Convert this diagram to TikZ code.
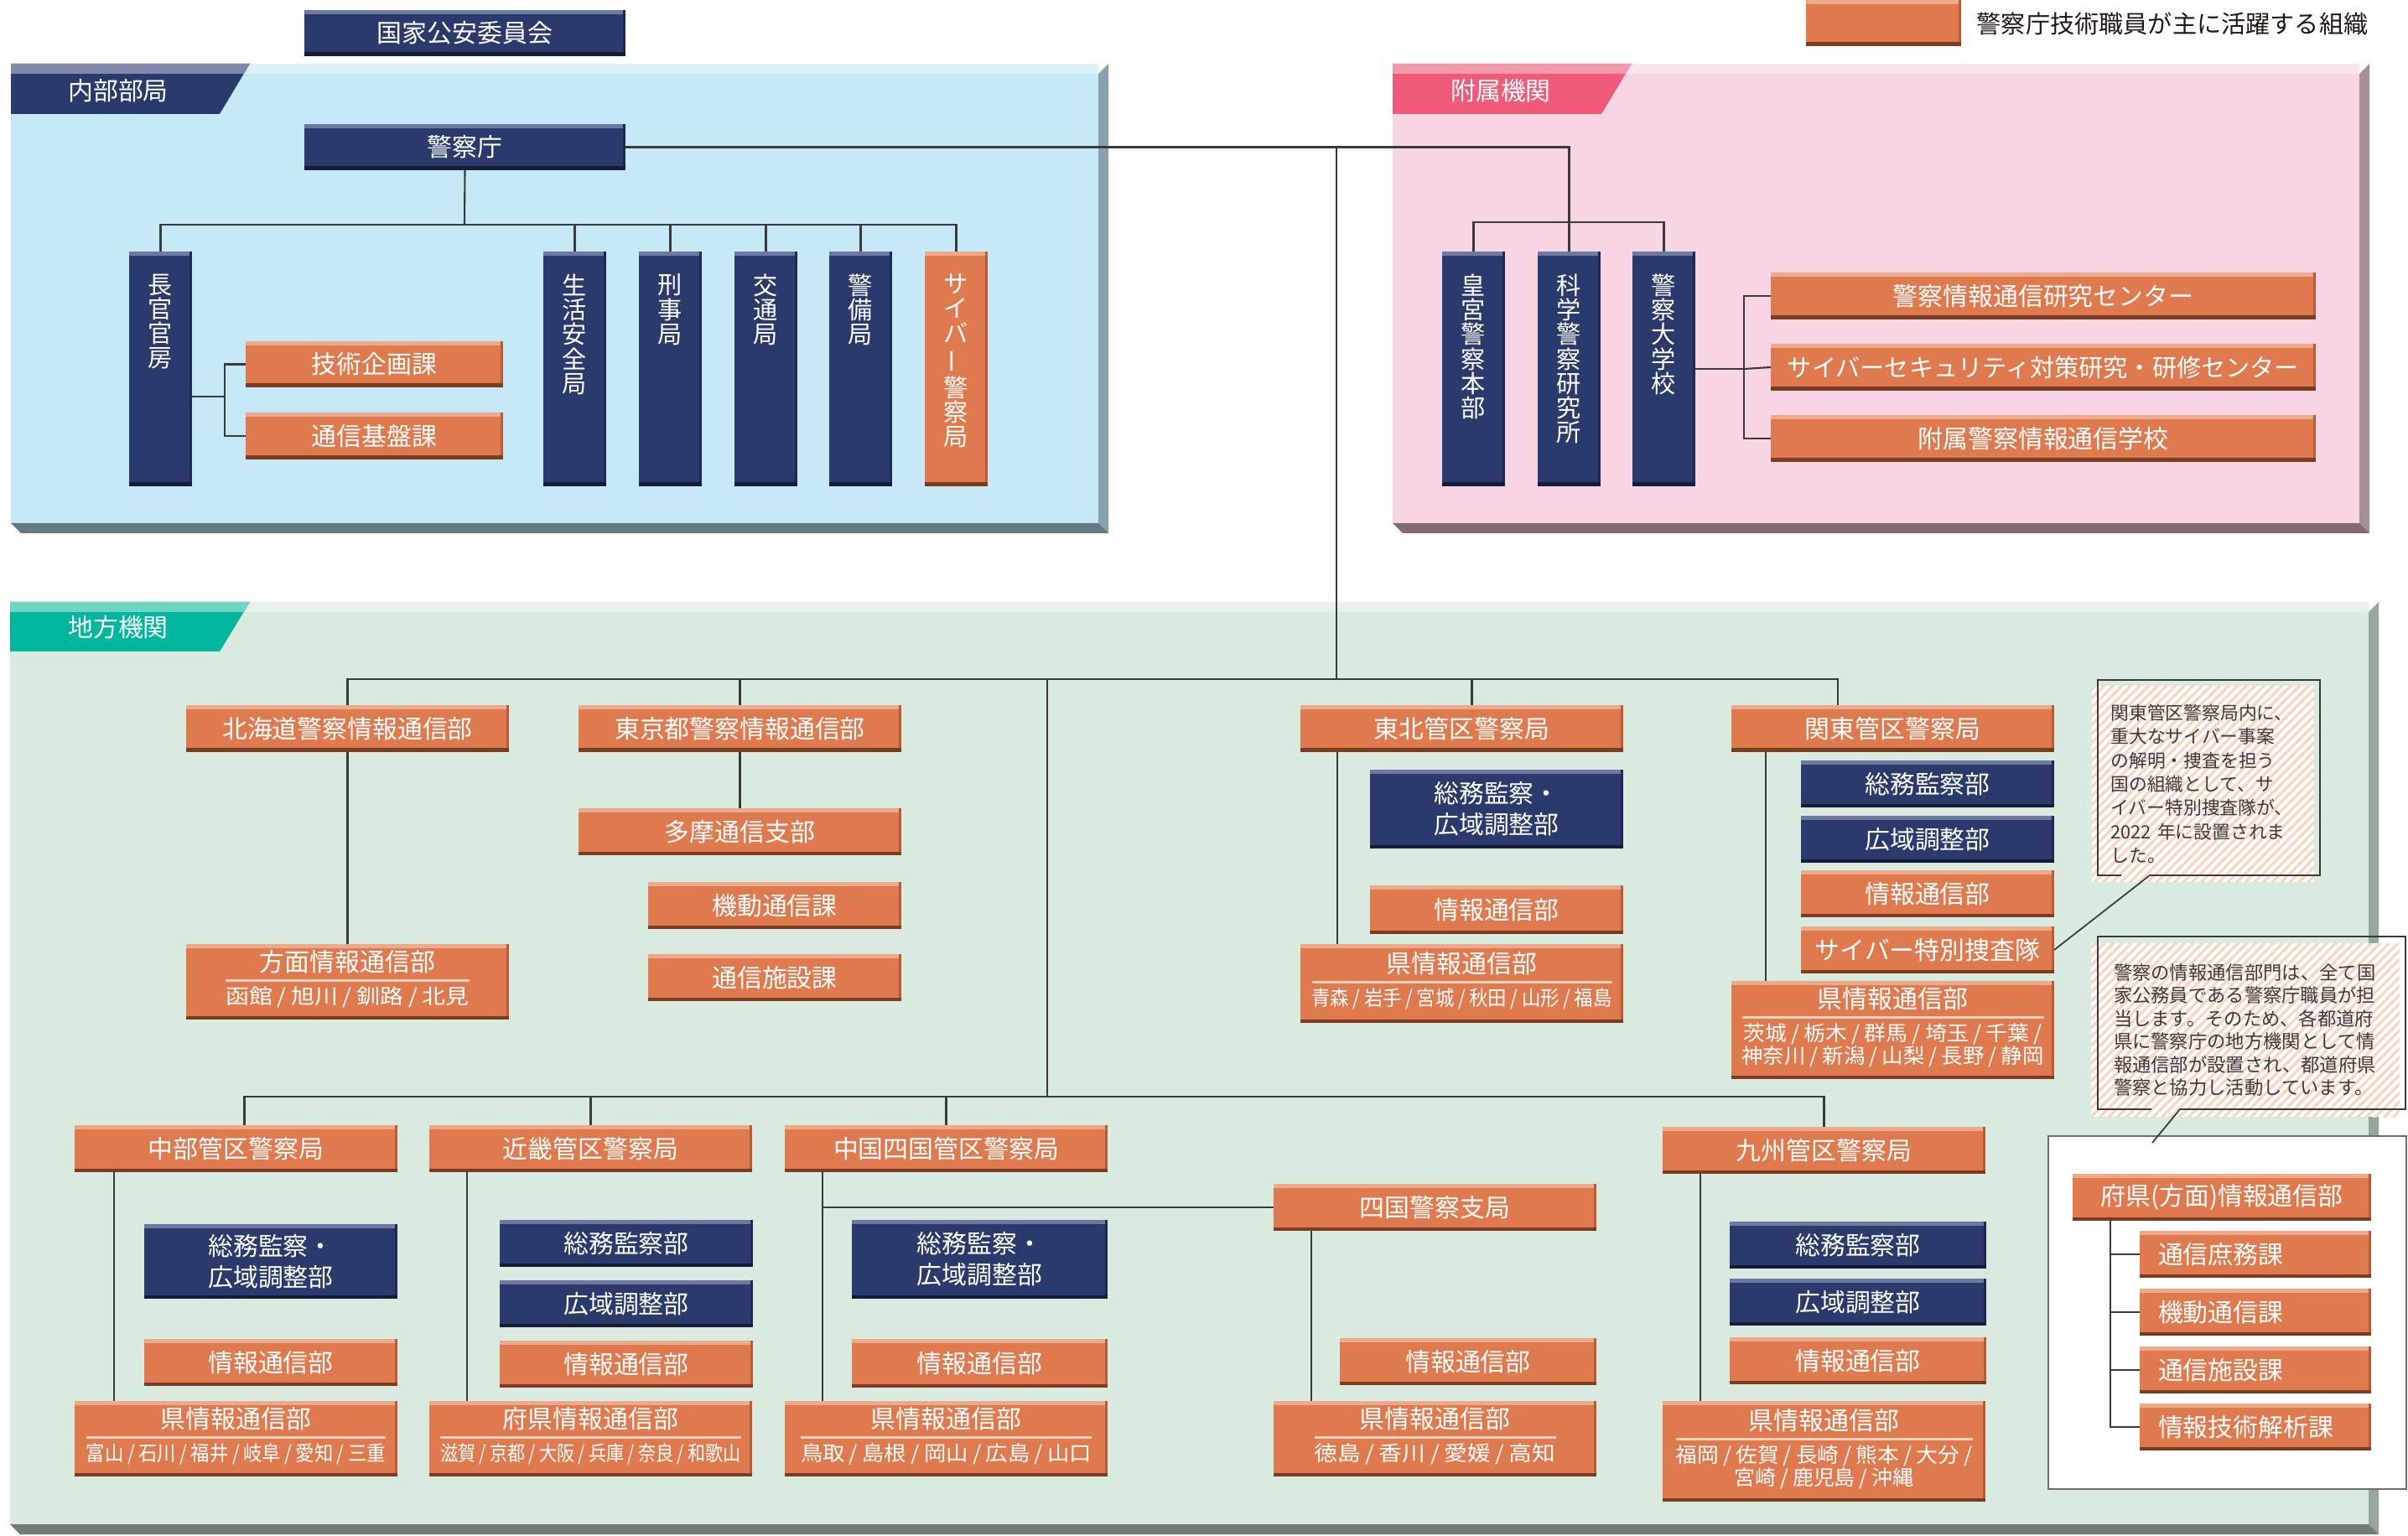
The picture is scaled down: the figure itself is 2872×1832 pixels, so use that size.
\documentclass[tikz,border=0pt]{standalone}
\usepackage{fontspec}
\setmainfont{Noto Sans CJK JP}
\usepackage{colortbl}
\usetikzlibrary{patterns.meta}

\definecolor{orgF}{HTML}{DF7A4F}
\definecolor{orgT}{HTML}{EBAA8B}
\definecolor{orgR}{HTML}{B95B34}
\definecolor{orgB}{HTML}{7C3C22}
\definecolor{navF}{HTML}{2B3A6C}
\definecolor{navT}{HTML}{6D79A1}
\definecolor{navR}{HTML}{1F2A52}
\definecolor{navB}{HTML}{151C3A}
\definecolor{bluP}{HTML}{C7E8F7}
\definecolor{bluT}{HTML}{DDF1FB}
\definecolor{bluS}{HTML}{88A1AD}
\definecolor{bluSB}{HTML}{637A85}
\definecolor{pnkP}{HTML}{F8D5E5}
\definecolor{pnkT}{HTML}{FBE4EE}
\definecolor{pnkS}{HTML}{A68F98}
\definecolor{pnkSB}{HTML}{7F6A72}
\definecolor{grnP}{HTML}{D8EBDE}
\definecolor{grnT}{HTML}{E7F2EA}
\definecolor{grnS}{HTML}{97A69B}
\definecolor{grnSB}{HTML}{6F7D73}
\definecolor{tabN}{HTML}{2B3A6C}
\definecolor{tabNT}{HTML}{7F8AAA}
\definecolor{tabP}{HTML}{EE5A77}
\definecolor{tabPT}{HTML}{F39AAB}
\definecolor{tabG}{HTML}{00B69C}
\definecolor{tabGT}{HTML}{6ED5C6}
\definecolor{lineC}{HTML}{3A3A3A}
\definecolor{hatchC}{HTML}{F7D5C3}
\definecolor{noteC}{HTML}{3E3A39}
\definecolor{legC}{HTML}{231815}
\definecolor{sepC}{HTML}{F6D2BE}
\definecolor{wbC}{HTML}{6E6E6E}

\arrayrulecolor{sepC}
\setlength\arrayrulewidth{0.8pt}

\newcommand\subf{\fontsize{7}{8}\selectfont}
\newcommand\slsep{\hspace{0.2em}/\hspace{0.2em}}
\newcommand\sublist[2]{\resizebox{#1}{\height}{\subf #2}}
\newcommand\preftxt[2]{\begin{tabular}{@{}c@{}}#1\\[-0.5pt]\hline\rule{0pt}{7.6pt}#2\end{tabular}}
\newcommand\preftxtii[3]{\begin{tabular}{@{}c@{}}#1\\[-0.5pt]\hline\rule{0pt}{7.6pt}#2\\[-2.8pt]#3\end{tabular}}
\newcommand\vstack[1]{\parbox[c][27mm][t]{5mm}{\centering\fontsize{8.3}{8.3}\selectfont\vspace*{2.2mm}#1}}

\tikzset{
  bevel/.style n args={3}{path picture={
    \fill[#1] (path picture bounding box.north west) rectangle ([yshift=-0.5mm]path picture bounding box.north east);
    \fill[#2] ([xshift=-0.3mm]path picture bounding box.north east) rectangle (path picture bounding box.south east);
    \fill[#3] (path picture bounding box.south west) rectangle ([yshift=0.45mm]path picture bounding box.south east);}},
  box/.style={rectangle, inner sep=0pt, outer sep=0pt, anchor=north west, text=white, align=center,
    font=\fontsize{8.5}{10.5}\selectfont},
  obox/.style={box, fill=orgF, bevel={orgT}{orgR}{orgB}},
  nbox/.style={box, fill=navF, bevel={navT}{navR}{navB}},
  tallbox/.style={minimum width=7.5mm, minimum height=28mm},
  br/.style={minimum width=38.5mm, minimum height=5.6mm},
  sec/.style={minimum width=30.2mm, minimum height=5.6mm},
  wsec/.style={minimum width=27.6mm, minimum height=5.6mm, text width=23.2mm, align=left},
  tablbl/.style={inner sep=0pt, text=white, font=\fontsize{8.5}{10}\selectfont},
  note/.style={anchor=north west, inner sep=0pt, outer sep=0pt, preaction={fill=white},
    pattern={Lines[angle=45,distance=0.75mm,line width=0.33mm]}, pattern color=hatchC,
    text=noteC, align=left},
  frame/.style={draw=lineC, line width=0.5pt},
}

\begin{document}
\begin{tikzpicture}[x=0.1mm,y=-0.1mm, conn/.style={draw=lineC, line width=0.6pt}]
  \useasboundingbox (0,0) rectangle (2872,1832);

  % panels
  \fill[bluP] (13,76) rectangle (1310,624);
  \fill[bluT] (13,76) rectangle (1310,88);
  \fill[bluS] (1310,88) -- (1322,76) -- (1322,636) -- (1310,624) -- cycle;
  \fill[bluSB] (13,624) -- (1310,624) -- (1322,636) -- (25,636) -- cycle;
  \fill[pnkP] (1661,76) rectangle (2814,624);
  \fill[pnkT] (1661,76) rectangle (2814,88);
  \fill[pnkS] (2814,88) -- (2826,76) -- (2826,636) -- (2814,624) -- cycle;
  \fill[pnkSB] (1661,624) -- (2814,624) -- (2826,636) -- (1673,636) -- cycle;
  \fill[grnP] (12,718) rectangle (2825,1818);
  \fill[grnT] (12,718) rectangle (2825,730);
  \fill[grnS] (2825,730) -- (2837,718) -- (2837,1830) -- (2825,1818) -- cycle;
  \fill[grnSB] (12,1818) -- (2825,1818) -- (2837,1830) -- (24,1830) -- cycle;

  % tabs
  \fill[tabN] (13,76) -- (298,76) -- (262,136) -- (13,136) -- cycle;
  \fill[tabNT] (13,76) -- (298,76) -- (291,88) -- (13,88) -- cycle;
  \fill[tabP] (1661,76) -- (1946,76) -- (1910,136) -- (1661,136) -- cycle;
  \fill[tabPT] (1661,76) -- (1946,76) -- (1939,88) -- (1661,88) -- cycle;
  \fill[tabG] (12,718) -- (298,718) -- (262,777) -- (12,777) -- cycle;
  \fill[tabGT] (12,718) -- (298,718) -- (291,730) -- (12,730) -- cycle;
  \node[tablbl] (tabNaibu) at (141,108) {内部部局};
  \node[tablbl] (tabFuzoku) at (1790,108) {附属機関};
  \node[tablbl] (tabChiho) at (141,748) {地方機関};

  % legend
  \node[obox, minimum width=18.5mm, minimum height=5.5mm] (legend) at (2154,0) {};
  \node[anchor=west, inner sep=0pt, text=legC, font=\fontsize{8.3}{10}\selectfont] (legendTxt) at (2357,28) {警察庁技術職員が主に活躍する組織};

  % internal bureaus
  \node[nbox, minimum width=38.3mm, minimum height=5.5mm] (kokka) at (363,12) {国家公安委員会};
  \node[nbox, minimum width=38.3mm, minimum height=5.5mm] (npa) at (363,148) {警察庁};
  \node[nbox, tallbox] (chokan) at (154,300) {\vstack{長\\官\\官\\房}};
  \node[obox, minimum width=30.7mm, minimum height=5.5mm] (gikaku) at (293,407) {技術企画課};
  \node[obox, minimum width=30.7mm, minimum height=5.6mm] (kiban) at (293,492) {通信基盤課};
  \node[nbox, tallbox] (seian) at (648,300) {\vstack{生\\活\\安\\全\\局}};
  \node[nbox, tallbox] (keiji) at (762,300) {\vstack{刑\\事\\局}};
  \node[nbox, tallbox] (kotsu) at (876,300) {\vstack{交\\通\\局}};
  \node[nbox, tallbox] (keibi) at (989,300) {\vstack{警\\備\\局}};
  \node[obox, tallbox] (cyberB) at (1103,300) {\vstack{サ\\イ\\バ\\\rotatebox[origin=c]{90}{ー}\\警\\察\\局}};

  % attached organs
  \node[nbox, tallbox] (kogu) at (1720,300) {\vstack{皇\\宮\\警\\察\\本\\部}};
  \node[nbox, tallbox] (kaken) at (1834,300) {\vstack{科\\学\\警\\察\\研\\究\\所}};
  \node[nbox, tallbox] (daigaku) at (1947,300) {\vstack{警\\察\\大\\学\\校}};
  \node[obox, minimum width=65mm, minimum height=5.6mm] (riken) at (2112,325) {警察情報通信研究センター};
  \node[obox, minimum width=65mm, minimum height=5.6mm, font=\fontsize{8.3}{10}\selectfont] (cyc) at (2112,410) {サイバーセキュリティ対策研究・研修センター};
  \node[obox, minimum width=65mm, minimum height=5.6mm] (gakko) at (2112,495) {附属警察情報通信学校};

  % regional organs
  \node[obox, br] (hokkaido) at (222,841) {北海道警察情報通信部};
  \node[obox, br, minimum height=9mm] (homen) at (222,1126) {\preftxt{方面情報通信部}{\sublist{29mm}{函館\slsep 旭川\slsep 釧路\slsep 北見}}};
  \node[obox, br] (tokyo) at (690,841) {東京都警察情報通信部};
  \node[obox, br] (tama) at (690,964) {多摩通信支部};
  \node[obox, sec] (kido) at (773,1052) {機動通信課};
  \node[obox, sec] (shisetsu) at (773,1138) {通信施設課};

  \node[obox, br] (tohoku) at (1551,841) {東北管区警察局};
  \node[nbox, sec, minimum height=9.4mm] (tohokuSK) at (1634,918) {総務監察・\\広域調整部};
  \node[obox, sec, minimum height=5.8mm] (tohokuJ) at (1634,1056) {情報通信部};
  \node[obox, br, minimum height=9.4mm] (tohokuPref) at (1551,1126) {\preftxt{県情報通信部}{\sublist{35.8mm}{青森\slsep 岩手\slsep 宮城\slsep 秋田\slsep 山形\slsep 福島}}};

  \node[obox, br] (kanto) at (2065,841) {関東管区警察局};
  \node[nbox, sec] (kantoSo) at (2148,907) {総務監察部};
  \node[nbox, sec] (kantoKo) at (2148,973) {広域調整部};
  \node[obox, sec] (kantoJ) at (2148,1038) {情報通信部};
  \node[obox, sec] (kantoCyber) at (2148,1105) {サイバー特別捜査隊};
  \node[obox, br, minimum height=11.7mm] (kantoPref) at (2065,1170) {\preftxtii{県情報通信部}{\sublist{35.6mm}{茨城\slsep 栃木\slsep 群馬\slsep 埼玉\slsep 千葉\hspace{0.2em}/}}{\sublist{36mm}{神奈川\slsep 新潟\slsep 山梨\slsep 長野\slsep 静岡}}};

  \node[obox, br] (chubu) at (89,1342) {中部管区警察局};
  \node[nbox, sec, minimum height=8.9mm] (chubuSK) at (172,1460) {総務監察・\\広域調整部};
  \node[obox, sec] (chubuJ) at (172,1597) {情報通信部};
  \node[obox, br, minimum height=9mm] (chubuPref) at (89,1671) {\preftxt{県情報通信部}{\sublist{35.7mm}{富山\slsep 石川\slsep 福井\slsep 岐阜\slsep 愛知\slsep 三重}}};

  \node[obox, br] (kinki) at (512,1342) {近畿管区警察局};
  \node[nbox, sec] (kinkiSo) at (596,1455) {総務監察部};
  \node[nbox, sec] (kinkiKo) at (596,1527) {広域調整部};
  \node[obox, sec] (kinkiJ) at (596,1599) {情報通信部};
  \node[obox, br, minimum height=9mm] (kinkiPref) at (512,1671) {\preftxt{府県情報通信部}{\sublist{35.9mm}{滋賀\slsep 京都\slsep 大阪\slsep 兵庫\slsep 奈良\slsep 和歌山}}};

  \node[obox, br] (chushi) at (936,1342) {中国四国管区警察局};
  \node[nbox, sec, minimum width=30.5mm, minimum height=9.4mm] (chushiSK) at (1016,1455) {総務監察・\\広域調整部};
  \node[obox, sec, minimum width=30.5mm, minimum height=5.8mm] (chushiJ) at (1016,1597) {情報通信部};
  \node[obox, br, minimum height=9mm] (chushiPref) at (936,1671) {\preftxt{県情報通信部}{\sublist{34.7mm}{鳥取\slsep 島根\slsep 岡山\slsep 広島\slsep 山口}}};

  \node[obox, br] (shikoku) at (1519,1412) {四国警察支局};
  \node[obox, sec, minimum width=30.6mm] (shikokuJ) at (1598,1596) {情報通信部};
  \node[obox, br, minimum height=9mm] (shikokuPref) at (1519,1671) {\preftxt{県情報通信部}{\sublist{28.8mm}{徳島\slsep 香川\slsep 愛媛\slsep 高知}}};

  \node[obox, br] (kyushu) at (1983,1344) {九州管区警察局};
  \node[nbox, sec, minimum width=30.6mm] (kyushuSo) at (2063,1457) {総務監察部};
  \node[nbox, sec, minimum width=30.6mm] (kyushuKo) at (2063,1525) {広域調整部};
  \node[obox, sec, minimum width=30.6mm] (kyushuJ) at (2063,1595) {情報通信部};
  \node[obox, br, minimum height=12mm] (kyushuPref) at (1983,1671) {\preftxtii{県情報通信部}{\sublist{35.4mm}{福岡\slsep 佐賀\slsep 長崎\slsep 熊本\slsep 大分\hspace{0.2em}/}}{\sublist{21.4mm}{宮崎\slsep 鹿児島\slsep 沖縄}}};

  % prefectural units
  \node[draw=wbC, line width=0.5pt, fill=white, anchor=north west, inner sep=0pt, minimum width=42.7mm, minimum height=42.1mm] (pbox) at (2442,1354) {};
  \node[obox, minimum width=35.6mm, minimum height=5.6mm] (fuken) at (2472,1400) {府県(方面)情報通信部};
  \node[obox, wsec] (shomu) at (2552,1468) {通信庶務課};
  \node[obox, wsec] (kidoW) at (2552,1537) {機動通信課};
  \node[obox, wsec] (shisetsuW) at (2552,1606) {通信施設課};
  \node[obox, wsec] (kaiseki) at (2552,1674) {情報技術解析課};

  % connectors
  \coordinate (ib) at (554,268);
  \draw[conn] (npa.south) -- (ib);
  \draw[conn] (chokan.north) |- (ib) -| (cyberB.north);
  \foreach \n in {seian,keiji,kotsu,keibi}
    \draw[conn] (\n.north) -- (\n.north |- ib);
  \draw[conn] ([yshift=-3.3mm]chokan.east) -- ++(39,0) coordinate (cb);
  \draw[conn] (gikaku.west) -| (cb) |- (kiban.west);

  \coordinate (pbus) at (1870,265);
  \draw[conn] (npa.east) -| (kaken.north);
  \draw[conn] (kogu.north) |- (kaken.north |- pbus) -| (daigaku.north);
  \draw[conn] (daigaku.east) -- ++(58,0) coordinate (db);
  \draw[conn] (riken.west) -| (db) |- (gakko.west);
  \draw[conn] (cyc.west) -- (db);

  \coordinate (rb) at (1594,810);
  \coordinate (rk) at (2192,810);
  \draw[conn] (npa.east -| rb) -- (rb);
  \draw[conn] (hokkaido.north) |- (rb) -| (kanto.north -| rk);
  \draw[conn] (tokyo.north) -- (tokyo.north |- rb);
  \draw[conn] ([xshift=1.2mm]tohoku.north) -- ([xshift=1.2mm]tohoku.north |- rb);
  \draw[conn] (hokkaido.south) -- (homen.north);
  \draw[conn] (tokyo.south) -- (tama.north);
  \draw[conn] ([xshift=4.4mm]tohoku.south west) -- ([xshift=4.4mm]tohokuPref.north west);
  \draw[conn] ([xshift=4.1mm]kanto.south west) -- ([xshift=4.1mm]kantoPref.north west);

  \coordinate (lb) at (1249,1308);
  \draw[conn] (lb |- rb) -- (lb);
  \draw[conn] ([xshift=1mm]chubu.north) |- (lb) -| (kyushu.north);
  \draw[conn] (kinki.north) -- (kinki.north |- lb);
  \draw[conn] (chushi.north) -- (chushi.north |- lb);
  \draw[conn] ([xshift=4.7mm]chubu.south west) -- ([xshift=4.7mm]chubuPref.north west);
  \draw[conn] ([xshift=4.5mm]kinki.south west) -- ([xshift=4.5mm]kinkiPref.north west);
  \draw[conn] ([xshift=4.5mm]chushi.south west) -- ([xshift=4.5mm]chushiPref.north west);
  \draw[conn] ([xshift=4.5mm]chushi.south west) |- (shikoku.west);
  \draw[conn] ([xshift=4.5mm]shikoku.south west) -- ([xshift=4.5mm]shikokuPref.north west);
  \draw[conn] ([xshift=4.5mm]kyushu.south west) -- ([xshift=4.5mm]kyushuPref.north west);
  \foreach \n in {shomu,kidoW,shisetsuW,kaiseki}
    \draw[conn] ([xshift=4.5mm]fuken.south west) |- (\n.west);

  % notes
  \node[note, minimum width=26.5mm, minimum height=23.4mm, text width=22mm, font=\fontsize{6.2}{8.05}\selectfont] (note1) at (2495,818)
    {関東管区警察局内に、\\重大なサイバー事案\\の解明・捜査を担う\\国の組織として、サ\\イバー特別捜査隊が、\\2022 年に設置されま\\した。};
  \draw[frame] ([shift={(35,-8)}]note1.south west) -| ([shift={(7,-7)}]note1.north west)
    -| ([shift={(7,-8)}]note1.south east) -- ([shift={(69,-8)}]note1.south west) -- (kantoCyber.east);
  \node[note, minimum width=36.8mm, minimum height=20.7mm, text width=31.4mm, font=\fontsize{6.35}{7.8}\selectfont] (note2) at (2494,1125)
    {警察の情報通信部門は、全て国\\家公務員である警察庁職員が担\\当します。そのため、各都道府\\県に警察庁の地方機関として情\\報通信部が設置され、都道府県\\警察と協力し活動しています。};
  \draw[frame] ([shift={(72,-9)}]note2.south west) -| ([shift={(8,-8)}]note2.north west)
    -| ([shift={(7,-9)}]note2.south east) -- ([shift={(106,-9)}]note2.south west) -- ([shift={(125,9)}]pbox.north west);
\end{tikzpicture}
\end{document}
